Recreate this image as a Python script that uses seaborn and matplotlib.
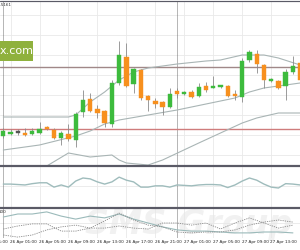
import matplotlib
matplotlib.use("Agg")
import matplotlib.pyplot as plt
import matplotlib.transforms as mtransforms
from matplotlib.lines import Line2D
import numpy as np
import pandas as pd
import seaborn as sns

# ---------------- data ----------------
candle_idx = list(range(42))
opens = [1.3029, 1.3032, 1.3033, 1.3032, 1.3031, 1.3032, 1.3038, 1.3035, 1.3027, 1.3031,
         1.3025, 1.3053, 1.3066, 1.3056, 1.3054, 1.3041, 1.3082, 1.3108, 1.3081, 1.3095,
         1.3069, 1.3064, 1.3063, 1.3058, 1.3074, 1.3072, 1.3073, 1.3069, 1.3079, 1.3078,
         1.3078, 1.3079, 1.3071, 1.3068, 1.3105, 1.3111, 1.3100, 1.3084, 1.3084, 1.3079,
         1.3093, 1.3102]
highs = [1.3037, 1.3036, 1.3036, 1.3037, 1.3037, 1.3043, 1.3039, 1.3037, 1.3034, 1.3041,
         1.3053, 1.3075, 1.3072, 1.3060, 1.3055, 1.3085, 1.3124, 1.3122, 1.3097, 1.3096,
         1.3070, 1.3067, 1.3064, 1.3077, 1.3077, 1.3074, 1.3075, 1.3082, 1.3083, 1.3089,
         1.3080, 1.3080, 1.3075, 1.3107, 1.3115, 1.3115, 1.3101, 1.3087, 1.3085, 1.3096,
         1.3109, 1.3105]
lows = [1.3027, 1.3030, 1.3030, 1.3029, 1.3030, 1.3031, 1.3035, 1.3026, 1.3020, 1.3024,
        1.3018, 1.3048, 1.3053, 1.3047, 1.3038, 1.3038, 1.3080, 1.3078, 1.3072, 1.3065,
        1.3054, 1.3057, 1.3050, 1.3057, 1.3067, 1.3070, 1.3067, 1.3068, 1.3073, 1.3077,
        1.3077, 1.3068, 1.3065, 1.3063, 1.3103, 1.3092, 1.3077, 1.3083, 1.3076, 1.3065,
        1.3091, 1.3083]
closes = [1.3034, 1.3033, 1.3033, 1.3031, 1.3034, 1.3036, 1.3036, 1.3027, 1.3032, 1.3026,
          1.3051, 1.3065, 1.3054, 1.3052, 1.3042, 1.3082, 1.3110, 1.3079, 1.3096, 1.3067,
          1.3065, 1.3061, 1.3058, 1.3071, 1.3071, 1.3073, 1.3068, 1.3078, 1.3075, 1.3079,
          1.3080, 1.3069, 1.3069, 1.3104, 1.3113, 1.3101, 1.3085, 1.3086, 1.3077, 1.3093,
          1.3099, 1.3085]

bb_upper_idx = [0, 9, 10, 12, 14, 16, 18, 20, 24, 28, 30, 33, 36, 38, 41]
bb_upper = [1.3048, 1.3048, 1.3050, 1.3063, 1.3073, 1.3085, 1.3093, 1.3097, 1.3101, 1.3104,
            1.3105, 1.3110, 1.3110, 1.3107, 1.3100]
bb_mid_idx = [0, 5, 10, 12, 14, 16, 20, 24, 28, 32, 34, 36, 38, 41]
bb_mid = [1.3015, 1.3020, 1.3029, 1.3034, 1.3041, 1.3045, 1.3050, 1.3055, 1.3061, 1.3067,
          1.3073, 1.3077, 1.3079, 1.3082]
bb_lower_idx = [0, 4, 6, 9, 12, 15, 16, 17, 20, 22, 27, 33, 35, 38, 41]
bb_lower = [1.2993, 1.2995, 1.2999, 1.3012, 1.3008, 1.3010, 1.3005, 1.3002, 1.3000, 1.3005,
            1.3022, 1.3042, 1.3047, 1.3052, 1.3052]

level_upper = 1.3098
level_lower = 1.3036

osc1 = [55, 55, 54, 53, 56, 58, 58, 48, 53, 48, 62, 69, 67, 60, 55, 60, 71, 64, 60, 48,
        48, 51, 51, 48, 53, 52, 51, 53, 54, 54, 53, 47, 53, 62, 69, 64, 55, 48, 46, 56,
        55, 53]

osc2_idx = list(range(0, 42, 2))
osc2_main = [70, 80, 80, 87, 73, 63, 73, 67, 80, 63, 50, 37, 27, 23, 23, 20, 17, 17, 20, 20, 17]
osc2_sig_a = [30, 40, 47, 47, 23, 23, 33, 57, 83, 60, 43, 37, 20, 17, 20, 20, 27, 43, 53, 60, 53]
osc2_sig_b = [10, 3, 10, 27, 37, 43, 33, 33, 40, 33, 30, 50, 50, 43, 50, 30, 50, 67, 50, 33, 43]

tick_idx = [-3, 1, 5, 9, 13, 17, 21, 25, 29, 33, 37]
tick_labels = ["25 Apr 21:00", "26 Apr 01:00", "26 Apr 05:00", "26 Apr 09:00",
               "26 Apr 13:00", "26 Apr 17:00", "26 Apr 21:00", "27 Apr 01:00",
               "27 Apr 05:00", "27 Apr 09:00", "27 Apr 13:00"]
day_breaks = [0, 24]

# ---------------- style ----------------
sns.set_style("white")
plt.rcParams["font.family"] = ["DejaVu Sans"]

W, H = 300, 250
fig = plt.figure(figsize=(3, 2.5), dpi=100)
fig.patch.set_facecolor("white")


def pane(y0, y1):
    return fig.add_axes([0, 1 - y1 / H, 1, (y1 - y0) / H])


ax1 = pane(1, 165)
ax2 = pane(165, 208)
ax3 = pane(208, 238)
XL = (-0.456, 40.98)
grid_c = "#e9e9e9"

for ax in (ax1, ax2, ax3):
    ax.set_xlim(*XL)
    ax.set_facecolor("white")
    for s in ax.spines.values():
        s.set_visible(False)
    ax.set_xticks([])
    ax.set_yticks([])
    for k in tick_idx:
        if XL[0] < k < XL[1]:
            ax.axvline(k, color=grid_c, lw=0.6, zorder=0)
    for k in day_breaks:
        ax.axvline(k, color="#555555", lw=0.6, ls=(0, (1.2, 1.2)), zorder=1)

# watermark (behind the lower pane lines)
ax3.text(0.63, 0.45, "SMS Group", transform=ax3.transAxes, ha="center", va="center",
         fontsize=24, fontstyle="italic", fontweight="bold", color="#e8e8e8",
         alpha=0.6, zorder=0.5, clip_on=False)

# main pane
ax1.set_ylim(1.3000, 1.3164)
for p in np.arange(1.3010, 1.3164, 0.0020):
    ax1.axhline(p, color=grid_c, lw=0.6, zorder=0)
ax1.axhline(level_upper, color="#a08888", lw=1.0, zorder=2)
ax1.axhline(level_lower, color="#cf7c7c", lw=1.0, zorder=2)

band_c = "#a9b5b5"
for idx, vals in ((bb_upper_idx, bb_upper), (bb_mid_idx, bb_mid), (bb_lower_idx, bb_lower)):
    sns.lineplot(x=idx, y=vals, ax=ax1, color=band_c, lw=0.8, zorder=3)

df = pd.DataFrame({"i": candle_idx, "o": opens, "h": highs, "l": lows, "c": closes})
colors = ["#3dbb3d" if c > o else ("#f7901e" if c < o else "#555555")
          for o, c in zip(df.o, df.c)]
ax1.vlines(df.i, df.l, df.h, color="#8a8a8a", lw=0.6, zorder=4)
heights = np.maximum(np.abs(df.c - df.o), 0.00012)
bottoms = np.minimum(df.o, df.c) - np.where(np.abs(df.c - df.o) < 0.00012, 0.00006, 0)
ax1.bar(df.i, heights, bottom=bottoms, width=0.6, color=colors, edgecolor=colors,
        lw=0.3, zorder=5)

# pane 2
ax2.set_ylim(0, 98.9)
ax2.axhline(50, color=grid_c, lw=0.6, zorder=0)
sns.lineplot(x=candle_idx, y=osc1, ax=ax2, color="#9fbcbc", lw=1.0)

# pane 3
ax3.set_ylim(0, 100)
ax3.axhline(50, color=grid_c, lw=0.6, zorder=0)
sns.lineplot(x=osc2_idx, y=osc2_main, ax=ax3, color="#9bbaba", lw=0.8)
sns.lineplot(x=osc2_idx, y=osc2_sig_a, ax=ax3, color="#8a8a8a", lw=0.6)
sns.lineplot(x=osc2_idx, y=osc2_sig_b, ax=ax3, color="#8a8a8a", lw=0.6)
for line in ax3.lines[-2:]:
    line.set_linestyle((0, (1.5, 1.2)))

for ax in (ax1, ax2, ax3):
    ax.set_xlim(*XL)
    ax.set_xlabel("")
    ax.set_ylabel("")

# x labels
trans = mtransforms.blended_transform_factory(ax3.transData, fig.transFigure)
for k, lab in zip(tick_idx, tick_labels):
    ax3.text(k - 0.1, 1 - 240.5 / H, lab, transform=trans, ha="left", va="top",
             fontsize=3.0, family=["Liberation Sans Narrow", "DejaVu Sans"],
             color="#222222", clip_on=False)

# small labels
fig.text(-2 / W, 1 - 5 / H, "1.5161", ha="left", va="center", fontsize=3.0,
         family=["Liberation Sans Narrow", "DejaVu Sans"], color="#333333")
fig.text(6 / W, 1 - 212 / H, "100", ha="right", va="center", fontsize=3.0,
         family=["Liberation Sans Narrow", "DejaVu Sans"], color="#333333")

# logo box
fig.patches.append(plt.Rectangle((0, 1 - 61 / H), 33 / W, 20 / H, transform=fig.transFigure,
                                 facecolor="#8fb13d", edgecolor="none", zorder=10))
fig.text(16.5 / W, 1 - 51 / H, "x.com", ha="center", va="center", fontsize=8,
         color="white", zorder=11)

# separators / top border
for y, lw in ((0.7, 1.2), (165.5, 2.2), (208, 2.2)):
    fig.add_artist(Line2D([0, 1], [1 - y / H, 1 - y / H], transform=fig.transFigure,
                          color="#5a5a66", lw=lw * 0.72, zorder=12))

fig.savefig("out.png", dpi=100)
